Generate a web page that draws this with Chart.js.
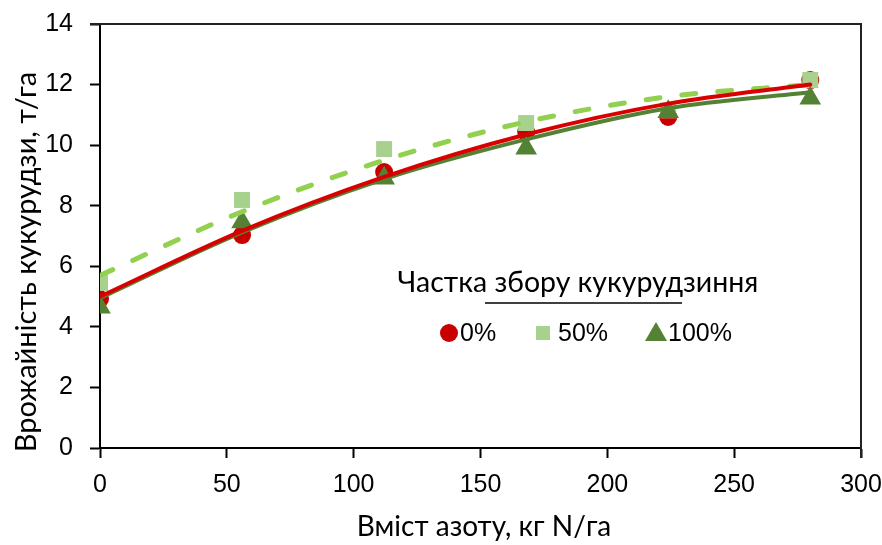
<!DOCTYPE html>
<html lang="uk">
<head>
<meta charset="UTF-8">
<title>Врожайність кукурудзи</title>
<style>
    body { margin: 0; background: #fff; }
    #wrap { width: 882px; height: 545px; position: relative; }
</style>
</head>
<body>
<div id="wrap"><canvas id="chart"></canvas></div>
<script src="https://cdn.jsdelivr.net/npm/chart.js"></script>
<script>
// nitrogen rates, kg N/ha
const nRates = [0, 56, 112, 168, 224, 280];

const yield0 = [4.92, 7.03, 9.11, 10.43, 10.93, 12.15];
const yield50 = [5.45, 8.19, 9.87, 10.73, 11.15, 12.15];
const yield100 = [4.65, 7.46, 8.91, 9.9, 11.1, 11.55];

// trend curves at the same rates
const trend0 = [5.0, 7.17, 8.95, 10.35, 11.37, 12.0];
const trend50 = [5.7, 7.8, 9.5, 10.77, 11.6, 12.0];
const trend100 = [4.95, 7.12, 8.88, 10.19, 11.22, 11.75];

const seriesLabels = ['0%', '50%', '100%'];
const legendTitle = 'Частка збору кукурудзиння';
const xTitle = 'Вміст азоту, кг N/га';
const yTitle = 'Врожайність кукурудзи, т/га';

const RED = '#C80000';
const LIGHT = '#A9D18E';
const DARK = '#548235';
const DASH = '#92D050';

const tickFont = { family: '"Liberation Sans Narrow", "Arial Narrow", "Liberation Sans", Arial, sans-serif', size: 25 };
const titleFamily = 'Lato, Carlito, Calibri, sans-serif';

function pts(xs, ys) {
    return xs.map((x, i) => ({ x: x, y: ys[i] }));
}

function trendLine(vals, color, dash, order) {
    return {
        data: pts(nRates, vals),
        showLine: true,
        borderColor: color,
        borderWidth: dash ? 5 : 4,
        borderDash: dash ? [14, 22] : [],
        borderCapStyle: 'round',
        pointRadius: 0,
        cubicInterpolationMode: 'monotone',
        order: order
    };
}

function marks(vals, style, radius, color, order) {
    return {
        data: pts(nRates, vals),
        pointStyle: style,
        pointRadius: radius,
        backgroundColor: color,
        borderColor: color,
        borderWidth: 0,
        order: order
    };
}

// frame on top and right, axis titles, legend box inside the plot
const extras = {
    id: 'extras',
    afterDraw(chart) {
        const { ctx, chartArea: a } = chart;
        ctx.save();
        ctx.strokeStyle = '#222';
        ctx.lineWidth = 2;
        ctx.beginPath();
        ctx.moveTo(a.left - 10, a.top);
        ctx.lineTo(a.right, a.top);
        ctx.lineTo(a.right, a.bottom + 10);
        ctx.stroke();

        // axis titles
        ctx.fillStyle = '#000';
        ctx.font = '28px ' + titleFamily;
        ctx.textAlign = 'center';
        ctx.textBaseline = 'middle';
        ctx.fillText(xTitle, 484, 527);
        ctx.save();
        ctx.translate(27, 262);
        ctx.rotate(-Math.PI / 2);
        ctx.font = '29px ' + titleFamily;
        ctx.fillText(yTitle, 0, 0);
        ctx.restore();

        // legend
        ctx.font = '28.5px ' + titleFamily;
        ctx.textBaseline = 'alphabetic';
        ctx.fillText(legendTitle, 578, 292);
        ctx.strokeStyle = '#000';
        ctx.lineWidth = 1.5;
        ctx.beginPath();
        ctx.moveTo(485, 303);
        ctx.lineTo(682, 303);
        ctx.stroke();

        ctx.font = '25px "Liberation Sans", Arial, sans-serif';
        ctx.textAlign = 'left';
        ctx.textBaseline = 'middle';
        const y = 333;
        ctx.fillStyle = RED;
        ctx.beginPath();
        ctx.arc(449, y, 9, 0, Math.PI * 2);
        ctx.fill();
        ctx.fillStyle = '#000';
        ctx.fillText(seriesLabels[0], 460, y + 1);
        ctx.fillStyle = LIGHT;
        ctx.fillRect(536, y - 7, 14, 14);
        ctx.fillStyle = '#000';
        ctx.fillText(seriesLabels[1], 558, y + 1);
        ctx.fillStyle = DARK;
        ctx.beginPath();
        ctx.moveTo(656, y - 11);
        ctx.lineTo(667, y + 8);
        ctx.lineTo(645, y + 8);
        ctx.closePath();
        ctx.fill();
        ctx.fillStyle = '#000';
        ctx.fillText(seriesLabels[2], 668, y + 1);
        ctx.restore();
    }
};

new Chart(document.getElementById('chart'), {
    type: 'scatter',
    data: {
        datasets: [
            trendLine(trend0, '#D80000', false, 0),
            trendLine(trend50, DASH, true, 1),
            trendLine(trend100, DARK, false, 2),
            marks(yield100, 'triangle', 12.5, DARK, 3),
            marks(yield50, 'rect', 11.3, LIGHT, 4),
            marks(yield0, 'circle', 9, RED, 5)
        ]
    },
    options: {
        responsive: true,
        maintainAspectRatio: false,
        animation: false,
        layout: { padding: { top: 24, right: 21, left: 0, bottom: 0 } },
        plugins: {
            legend: { display: false },
            tooltip: { enabled: false }
        },
        scales: {
            x: {
                type: 'linear',
                min: 0,
                max: 300,
                ticks: { stepSize: 50, color: '#000', font: tickFont, padding: 12 },
                grid: { drawOnChartArea: false, tickLength: 10, tickWidth: 2, tickColor: '#000' },
                border: { color: '#000', width: 2 },
                afterFit(scale) {
                    scale.height = 97;
                    scale.paddingLeft = 0;
                    scale.paddingRight = 0;
                }
            },
            y: {
                min: 0,
                max: 14,
                ticks: { stepSize: 2, color: '#000', font: tickFont, padding: 17 },
                grid: { drawOnChartArea: false, tickLength: 10, tickWidth: 2, tickColor: '#000' },
                border: { color: '#000', width: 2 },
                afterFit(scale) {
                    scale.width = 100;
                    scale.paddingTop = 0;
                    scale.paddingBottom = 0;
                }
            }
        }
    },
    plugins: [extras]
});
</script>
</body>
</html>
